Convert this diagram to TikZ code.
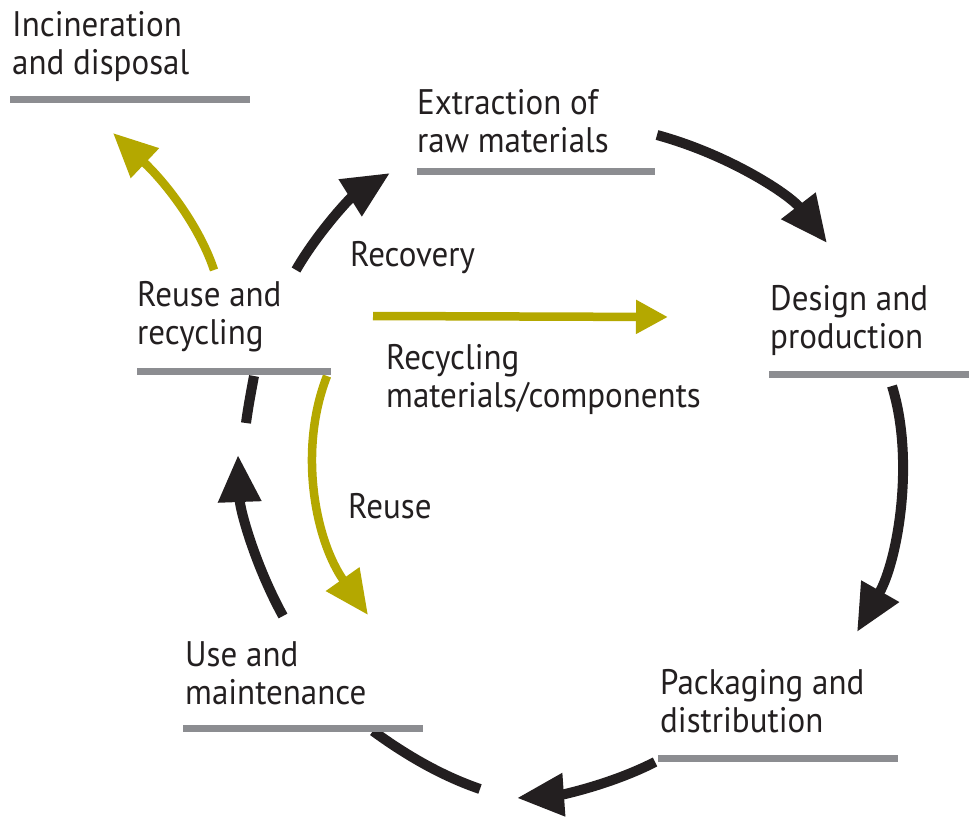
\documentclass[tikz,border=0pt]{standalone}
\usepackage{fontspec}
\setmainfont{PT Sans}[FakeStretch=0.93]
\usetikzlibrary{arrows.meta}
\definecolor{gold}{RGB}{180,168,0}
\definecolor{ink}{RGB}{35,31,32}
\definecolor{bargray}{RGB}{140,141,145}
\begin{document}
\begin{tikzpicture}[x=1pt,y=-1pt,
  lbl/.style={anchor=north west,inner sep=0pt,align=left,font=\fontsize{35.5}{38}\selectfont,text=ink},
  bar/.style={draw=bargray,line width=7pt},
  blk/.style={draw=ink,line width=10pt,-{Triangle[length=47pt,width=41pt]}},
  gld/.style={draw=gold,line width=8.5pt,-{Triangle[length=44pt,width=39pt]}},
  plain/.style={draw=ink,line width=10pt}]
\useasboundingbox (0,0) rectangle (969,819);
% endpoints
\coordinate (g1s) at (214,270); \coordinate (g1e) at (113,133);
\coordinate (r1s) at (296,270); \coordinate (r1e) at (390,173);
\coordinate (t1s) at (657,135); \coordinate (t1e) at (827,243);
\coordinate (hs) at (373,316); \coordinate (he) at (668,317);
\coordinate (d1s) at (892,386); \coordinate (d1e) at (857,632);
\coordinate (b1s) at (655,762); \coordinate (b1e) at (517,798);
\coordinate (b2s) at (373,731); \coordinate (b2e) at (480,789);
\coordinate (l1s) at (283,616); \coordinate (l1e) at (238,455);
\coordinate (l2s) at (254,376); \coordinate (l2e) at (246,423);
\coordinate (u1s) at (327,376); \coordinate (u1e) at (368,615);
% arrows
\draw[gld] (g1s) .. controls (200,228) and (168,185) .. (g1e);
\draw[blk] (r1s) .. controls (318,232) and (350,198) .. (r1e);
\draw[blk] (t1s) .. controls (730,155) and (790,195) .. (t1e);
\draw[gld,-{Triangle[length=32pt,width=32pt]}] (hs) -- (he);
\draw[blk] (d1s) .. controls (915,460) and (898,560) .. (d1e);
\draw[blk] (b1s) .. controls (610,785) and (560,795) .. (b1e);
\draw[plain] (b2s) .. controls (410,758) and (445,777) .. (b2e);
\draw[blk] (l1s) .. controls (255,565) and (240,510) .. (l1e);
\draw[plain] (l2s) .. controls (251,392) and (248,408) .. (l2e);
\draw[gld] (u1s) .. controls (298,450) and (315,540) .. (u1e);
% labels
\node[lbl] (inc) at (12,11) {Incineration\\and disposal};
\draw[bar] (10,99) -- (250,99);
\node[lbl] (ext) at (417,89) {Extraction of\\raw materials};
\draw[bar] (417,171) -- (655,171);
\node[lbl] (reu) at (137,281) {Reuse and\\recycling};
\draw[bar] (137,371) -- (331,371);
\node[lbl] (des) at (770,285) {Design and\\production};
\draw[bar] (769,374) -- (969,374);
\node[lbl] (pac) at (660,669) {Packaging and\\distribution};
\draw[bar] (658,758) -- (898,758);
\node[lbl] (use) at (185,641) {Use and\\maintenance};
\draw[bar] (183,728) -- (423,728);
\node[lbl] (rec) at (350,241) {Recovery};
\node[lbl] (rmc) at (386,344) {Recycling\\materials/components};
\node[lbl] (ru) at (348,493) {Reuse};
\end{tikzpicture}
\end{document}
